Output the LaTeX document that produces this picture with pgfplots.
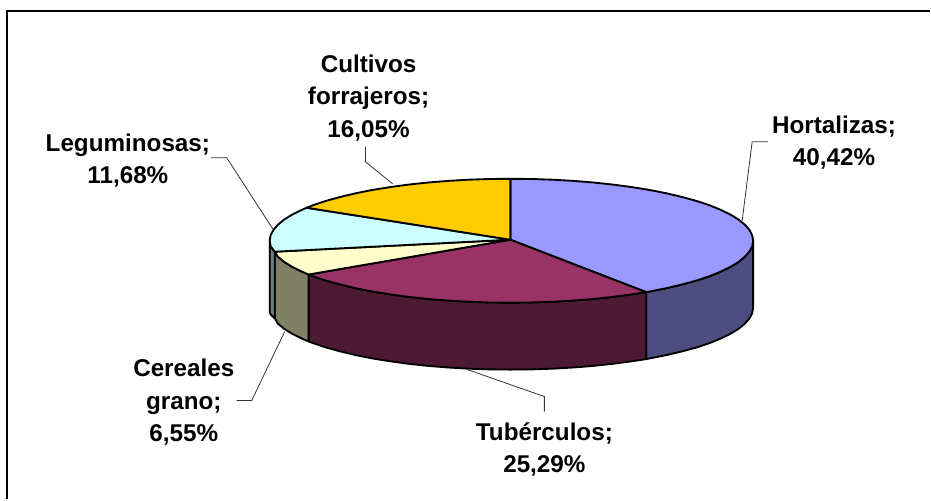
\documentclass[border=0pt]{standalone}
\usepackage{pgfplots}
\usepackage{fontspec}
\pgfplotsset{compat=1.18}
\setmainfont{Liberation Sans}

\definecolor{horta}{HTML}{9999FF}
\definecolor{hortaD}{HTML}{4D4D80}
\definecolor{tuber}{HTML}{993366}
\definecolor{tuberD}{HTML}{4D1A33}
\definecolor{cereal}{HTML}{FFFFCC}
\definecolor{cerealD}{HTML}{808066}
\definecolor{legum}{HTML}{CCFFFF}
\definecolor{legumD}{HTML}{668080}
\definecolor{forraj}{HTML}{FFCC00}
\definecolor{leader}{HTML}{333333}

\tikzset{
    slice/.style={draw=black, line width=1.4pt, line join=round},
    lead/.style={draw=leader, line width=0.6pt, line join=miter},
    lbl/.style={font=\fontsize{18.2pt}{24.4pt}\selectfont\bfseries, align=center, text=black},
}

\begin{document}
\begin{tikzpicture}
\begin{axis}[
    scale only axis,
    width=698.25pt,
    height=375pt,
    xmin=0, xmax=931,
    ymin=0, ymax=500,
    y dir=reverse,
    axis lines=none,
    clip=false,
]
% keep the page at the full picture size
\path (axis cs:0,0) rectangle (axis cs:931,500);

% frame: only left and top are inside the picture
\addplot[draw=black, line width=1.6pt] coordinates {(7,500) (7,11) (931,11)};

% walls
\addplot[slice, fill=hortaD] coordinates {
    (754,241) (753.1,246.4) (750.3,251.8) (745.7,257) (739.4,262.2) (731.2,267.2)
    (721.4,272) (710.1,276.6) (697.1,280.9) (682.8,284.8) (667.2,288.5) (650.4,291.8) (647,292.5)
    (647,359.5) (650.4,358.8) (667.2,355.5) (682.8,351.8) (697.1,347.9) (710.1,343.6) (721.4,339)
    (731.2,334.2) (739.4,329.2) (745.7,324) (750.3,318.8) (753.1,313.4) (754,308) (754,241)};
\addplot[slice, fill=tuberD] coordinates {
    (647,292.5) (632.5,294.7) (613.7,297.2) (594.1,299.3) (573.9,300.9) (553.2,302.1) (532.2,302.8)
    (511,303) (490,302.8) (469.1,302.1) (448.6,300.9) (428.6,299.3) (409.1,297.2) (390.5,294.7)
    (372.7,291.8) (356.1,288.5) (340.6,284.8) (326.4,280.9) (313.5,276.6) (309,274.8)
    (309,341.8) (313.5,343.6) (326.4,347.9) (340.6,351.8) (356.1,355.5) (372.7,358.8) (390.5,361.7)
    (409.1,364.2) (428.6,366.3) (448.6,367.9) (469.1,369.1) (490,369.8) (511,370) (532.2,369.8)
    (553.2,369.1) (573.9,367.9) (594.1,366.3) (613.7,364.2) (632.5,361.7) (647,359.5) (647,292.5)};
\addplot[slice, fill=cerealD] coordinates {
    (309,274.8) (302.3,272) (292.6,267.2) (284.5,262.2) (278.2,257) (275,252)
    (275,318.5) (278.2,324) (284.5,329.2) (292.6,334.2) (302.3,339) (309,341.8) (309,274.8)};
\addplot[slice, fill=legumD] coordinates {
    (275,252) (270.9,246.4) (270,241) (270,313) (272,316) (275,318.5) (275,252)};

% top face
\addplot[slice, fill=horta] coordinates {
    (511,240) (511,179) (532.2,179.2) (553.2,179.9) (573.9,181.1) (594.1,182.7) (613.7,184.8) (632.5,187.3)
    (650.4,190.2) (667.2,193.5) (682.8,197.2) (697.1,201.1) (710.1,205.4) (721.4,210) (731.2,214.8)
    (739.4,219.8) (745.7,225) (750.3,230.2) (753.1,235.6) (754,241) (753.1,246.4) (750.3,251.8)
    (745.7,257) (739.4,262.2) (731.2,267.2) (721.4,272) (710.1,276.6) (697.1,280.9) (682.8,284.8)
    (667.2,288.5) (650.4,291.8) (647,292.5) (511,240)};
\addplot[slice, fill=tuber] coordinates {
    (511,240) (647,292.5) (632.5,294.7) (613.7,297.2) (594.1,299.3) (573.9,300.9) (553.2,302.1) (532.2,302.8)
    (511,303) (490,302.8) (469.1,302.1) (448.6,300.9) (428.6,299.3) (409.1,297.2) (390.5,294.7)
    (372.7,291.8) (356.1,288.5) (340.6,284.8) (326.4,280.9) (313.5,276.6) (309,274.8) (511,240)};
\addplot[slice, fill=cereal] coordinates {
    (511,240) (309,274.8) (302.3,272) (292.6,267.2) (284.5,262.2) (278.2,257) (275,252) (511,240)};
\addplot[slice, fill=legum] coordinates {
    (511,240) (275,252) (270.9,246.4) (270,241) (270.9,235.6) (273.7,230.2) (278.2,225) (284.5,219.8)
    (292.6,214.8) (302.3,210) (307,208) (511,240)};
\addplot[slice, fill=forraj] coordinates {
    (511,240) (307,208) (313.5,205.4) (326.4,201.1) (340.6,197.2) (356.1,193.5) (372.7,190.2) (390.5,187.3)
    (409.1,184.8) (428.6,182.7) (448.6,181.1) (469.1,179.9) (490,179.2) (511,179) (511,240)};

% leader lines
\addplot[lead] coordinates {(743,221) (753,142) (769,142)};
\addplot[lead] coordinates {(211,158) (227,158) (273,229)};
\addplot[lead] coordinates {(366,147) (366,162) (393,184)};
\addplot[lead] coordinates {(237,401) (252,401) (285,332)};
\addplot[lead] coordinates {(468,370) (545,397) (545,412)};

% labels
\node[lbl] at (axis cs:835,143) {Hortalizas;\\40,42\%};
\node[lbl] at (axis cs:369,98) {Cultivos\\forrajeros;\\16,05\%};
\node[lbl] at (axis cs:128,161) {Leguminosas;\\11,68\%};
\node[lbl] at (axis cs:184,403) {Cereales\\grano;\\6,55\%};
\node[lbl] at (axis cs:545,450) {Tubérculos;\\25,29\%};
\end{axis}
\end{tikzpicture}
\end{document}
